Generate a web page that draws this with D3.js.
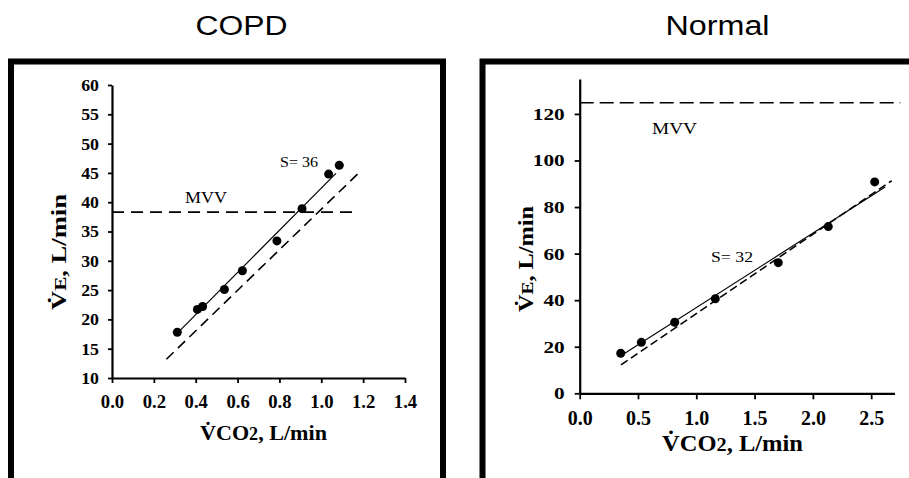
<!DOCTYPE html>
<html>
<head>
<meta charset="utf-8">
<script src="https://cdn.jsdelivr.net/npm/d3@7"></script>
<style>
  html, body { margin: 0; padding: 0; background: #fff; }
  svg { display: block; }
</style>
</head>
<body>
<svg id="chart" width="909" height="478"></svg>
<script>
// ---- COPD panel data ----
const copdVCO2 = [0.312, 0.408, 0.433, 0.537, 0.623, 0.788, 0.908, 1.035, 1.086];
const copdVE   = [17.8, 21.7, 22.2, 25.1, 28.3, 33.4, 38.9, 44.8, 46.3];
const copdSlope = 36;
const copdIntercept = 6.4;
const copdFitX = [0.31, 1.07];
const copdRefX = [0.26, 1.185];
const copdRefY = [13.2, 45.2];
const copdMVV = 38.3;
const copdMVVX = [0, 1.165];
const copdXTicks = [0.0, 0.2, 0.4, 0.6, 0.8, 1.0, 1.2, 1.4];
const copdYTicks = [10, 15, 20, 25, 30, 35, 40, 45, 50, 55, 60];

// ---- Normal panel data ----
const normVCO2 = [0.352, 0.529, 0.815, 1.163, 1.703, 2.132, 2.530];
const normVE   = [17.2, 21.9, 30.5, 40.6, 56.1, 71.6, 90.8];
const normSlope = 32;
const normIntercept = 4.8;
const normFitX = [0.36, 2.62];
const normRefX = [0.354, 2.676];
const normRefY = [12.2, 91.3];
const normMVV = 124.8;
const normMVVX = [0, 2.75];
const normXTicks = [0.0, 0.5, 1.0, 1.5, 2.0, 2.5];
const normYTicks = [0, 20, 40, 60, 80, 100, 120];

const svg = d3.select("#chart");
const SERIF = "'Liberation Serif', 'Times New Roman', serif";
const SANS = "'Liberation Sans', Arial, sans-serif";

// Text helper: optional fixed rendered width
function addText(g, o) {
  const t = g.append("text")
    .attr("x", o.x).attr("y", o.y)
    .attr("font-family", o.family || SERIF)
    .attr("font-size", o.size)
    .attr("font-weight", o.weight || "normal")
    .attr("text-anchor", o.anchor || "start")
    .attr("fill", "#000");
  if (o.rotate) t.attr("transform", `rotate(${o.rotate},${o.x},${o.y})`);
  if (o.parts) {
    o.parts.forEach(p => {
      const s = t.append("tspan").text(p.t);
      if (p.size) s.attr("font-size", p.size);
    });
  } else {
    t.text(o.text);
  }
  if (o.width) t.attr("textLength", o.width).attr("lengthAdjust", "spacingAndGlyphs");
  return t;
}

function stretchTicks(sel, k) {
  sel.each(function () {
    const w = this.getComputedTextLength();
    d3.select(this).attr("textLength", w * k).attr("lengthAdjust", "spacingAndGlyphs");
  });
}

// Panel frames
svg.append("rect").attr("x", 11).attr("y", 61.5).attr("width", 432).attr("height", 420)
  .attr("fill", "none").attr("stroke", "#000").attr("stroke-width", 6);
svg.append("rect").attr("x", 482.5).attr("y", 61.5).attr("width", 440).attr("height", 420)
  .attr("fill", "none").attr("stroke", "#000").attr("stroke-width", 6);

// Panel titles
addText(svg, { x: 241.5, y: 35, text: "COPD", size: 27, family: SANS, anchor: "middle", width: 92 });
addText(svg, { x: 717.5, y: 35, text: "Normal", size: 27, family: SANS, anchor: "middle", width: 104 });

function drawPanel(cfg) {
  const g = svg.append("g");
  const x = d3.scaleLinear().domain(cfg.xDomain).range(cfg.xRange);
  const y = d3.scaleLinear().domain(cfg.yDomain).range(cfg.yRange);

  // Axes
  const ya = g.append("g").attr("transform", `translate(${cfg.xRange[0]},0)`)
    .call(d3.axisLeft(y).tickValues(cfg.yTicks).tickSize(cfg.yTickSize).tickSizeOuter(0)
      .tickPadding(cfg.yPad).tickFormat(d3.format("d")));
  const xa = g.append("g").attr("transform", `translate(0,${cfg.yRange[0]})`)
    .call(d3.axisBottom(x).tickValues(cfg.xTicks).tickSize(cfg.xTickSize).tickSizeOuter(0)
      .tickFormat(d3.format(".1f")));
  [ya, xa].forEach(a => {
    a.select(".domain").attr("stroke", "#000").attr("stroke-width", 2.2);
    a.selectAll(".tick line").attr("stroke", "#000").attr("stroke-width", 1.8);
  });
  ya.selectAll(".tick text").attr("font-family", SERIF).attr("font-weight", "bold")
    .attr("font-size", cfg.yTickFont).attr("fill", "#000");
  xa.selectAll(".tick text").attr("font-family", SERIF).attr("font-weight", "bold")
    .attr("font-size", cfg.xTickFont).attr("fill", "#000")
    .attr("y", cfg.xLabelY).attr("dy", 0);
  stretchTicks(ya.selectAll(".tick text"), cfg.yTickStretch);
  stretchTicks(xa.selectAll(".tick text"), cfg.xTickStretch);

  // MVV line
  g.append("line")
    .attr("x1", x(cfg.mvvX[0])).attr("x2", x(cfg.mvvX[1]))
    .attr("y1", y(cfg.mvv)).attr("y2", y(cfg.mvv))
    .attr("stroke", "#000").attr("stroke-width", 1.6)
    .attr("stroke-dasharray", cfg.mvvDash);

  // Reference (dashed) line
  g.append("line")
    .attr("x1", x(cfg.refX[0])).attr("y1", y(cfg.refY[0]))
    .attr("x2", x(cfg.refX[1])).attr("y2", y(cfg.refY[1]))
    .attr("stroke", "#000").attr("stroke-width", 1.6)
    .attr("stroke-dasharray", cfg.refDash);

  // Regression line
  const fit = v => cfg.slope * v + cfg.intercept;
  g.append("line")
    .attr("x1", x(cfg.fitX[0])).attr("y1", y(fit(cfg.fitX[0])))
    .attr("x2", x(cfg.fitX[1])).attr("y2", y(fit(cfg.fitX[1])))
    .attr("stroke", "#000").attr("stroke-width", 1.2);

  // Points
  g.selectAll("circle").data(cfg.xs.map((v, i) => [v, cfg.ys[i]])).join("circle")
    .attr("cx", d => x(d[0])).attr("cy", d => y(d[1])).attr("r", 4.5)
    .attr("fill", "#000");

  // Annotations
  addText(g, cfg.mvvLabel);
  addText(g, cfg.slopeLabel);

  // Axis titles
  addText(g, cfg.xTitle);
  addText(g, cfg.yTitle);
}

drawPanel({
  xDomain: [0, 1.4], xRange: [112, 405],
  yDomain: [10, 60], yRange: [378, 85],
  xTicks: copdXTicks, yTicks: copdYTicks,
  yTickSize: 4, yPad: 9, xTickSize: 5,
  yTickFont: 17, xTickFont: 19, xLabelY: 30,
  yTickStretch: 1.05, xTickStretch: 0.98,
  xs: copdVCO2, ys: copdVE,
  slope: copdSlope, intercept: copdIntercept, fitX: copdFitX,
  refX: copdRefX, refY: copdRefY, refDash: "10,6",
  mvv: copdMVV, mvvX: copdMVVX, mvvDash: "12,7",
  mvvLabel: { x: 185, y: 203, text: "MVV", size: 17, width: 42 },
  slopeLabel: { x: 280, y: 167, text: "S= 36", size: 15, width: 38 },
  xTitle: { x: 200, y: 440, size: 22, weight: "bold", width: 127,
    parts: [{ t: "V\u0307CO" }, { t: "2", size: 18 }, { t: ", L/min" }] },
  yTitle: { x: 66, y: 310, size: 20, weight: "bold", width: 116, rotate: -90,
    parts: [{ t: "V\u0307" }, { t: "E", size: 16 }, { t: ", L/min" }] }
});

drawPanel({
  xDomain: [0, 2.7], xRange: [579.7, 894.5],
  yDomain: [0, 135], yRange: [393.3, 79],
  xTicks: normXTicks, yTicks: normYTicks,
  yTickSize: 5, yPad: 10, xTickSize: 6,
  yTickFont: 17, xTickFont: 21, xLabelY: 32,
  yTickStretch: 1.25, xTickStretch: 0.95,
  xs: normVCO2, ys: normVE,
  slope: normSlope, intercept: normIntercept, fitX: normFitX,
  refX: normRefX, refY: normRefY, refDash: "8,4",
  mvv: normMVV, mvvX: normMVVX, mvvDash: "14,6",
  mvvLabel: { x: 652, y: 134, text: "MVV", size: 17, width: 45 },
  slopeLabel: { x: 711, y: 262, text: "S= 32", size: 15, width: 42 },
  xTitle: { x: 662, y: 451, size: 23, weight: "bold", width: 141,
    parts: [{ t: "V\u0307CO" }, { t: "2", size: 19 }, { t: ", L/min" }] },
  yTitle: { x: 533, y: 312, size: 20, weight: "bold", width: 106, rotate: -90,
    parts: [{ t: "V\u0307" }, { t: "E", size: 16 }, { t: ", L/min" }] }
});
</script>
</body>
</html>
